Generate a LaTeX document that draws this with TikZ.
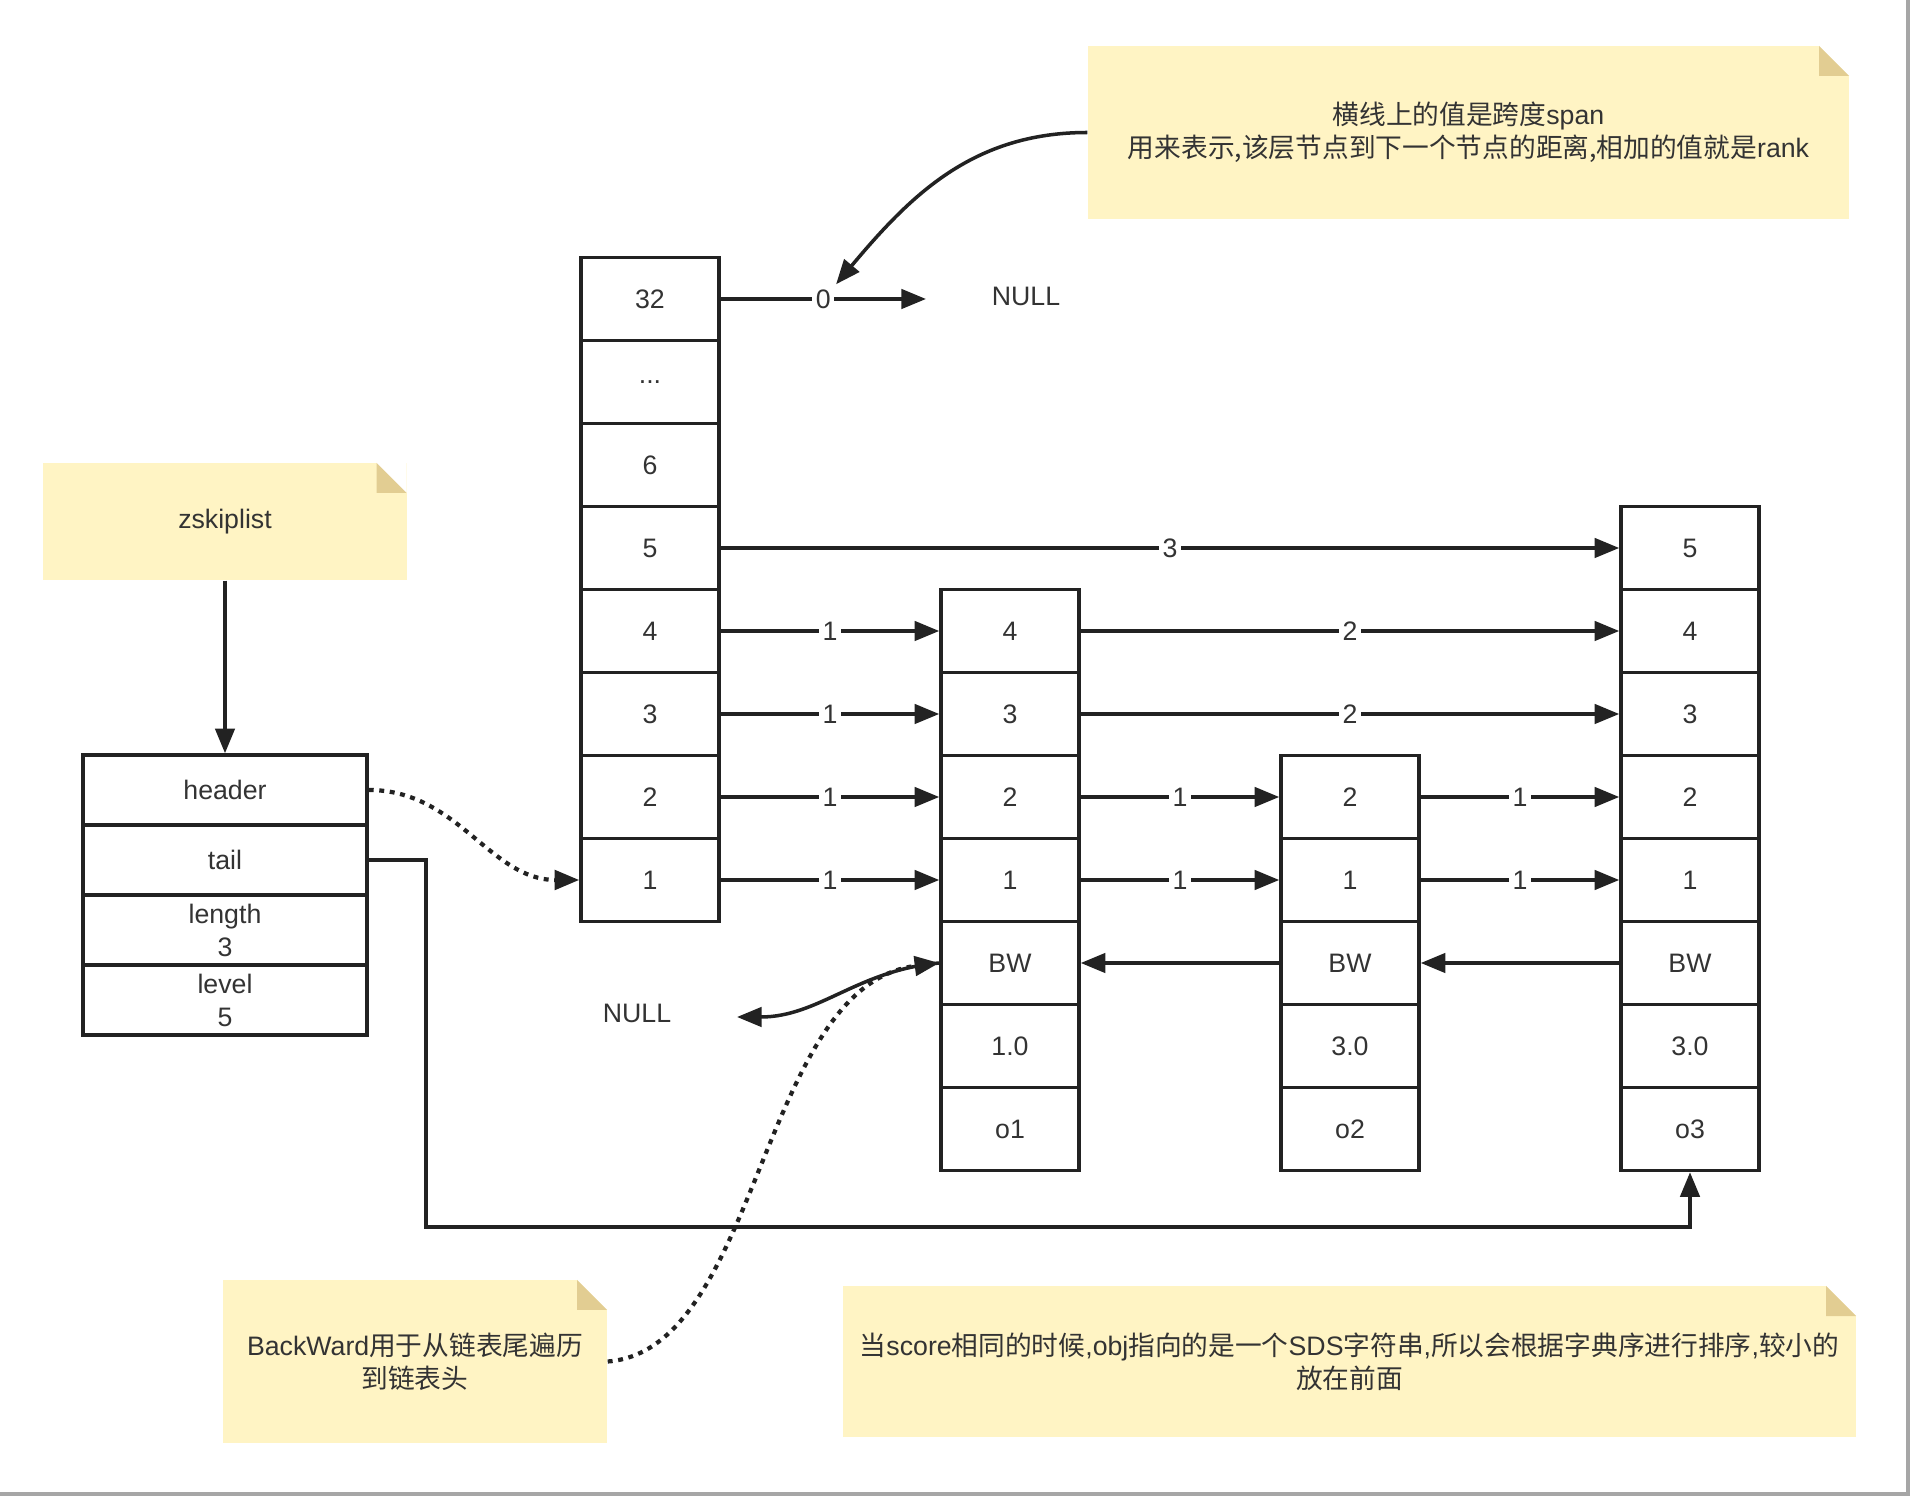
\documentclass[tikz,border=0pt]{standalone}
\usepackage{fontspec}
\setmainfont{Liberation Sans}
\newfontfamily\cjk{Noto Sans CJK SC}
\usetikzlibrary{arrows.meta}

\definecolor{notebg}{HTML}{FFF4C4}
\definecolor{notefold}{HTML}{E2CD92}
\definecolor{ink}{HTML}{222222}
\definecolor{txt}{HTML}{333333}

\tikzset{
  cell/.style={draw=ink, line width=1pt, minimum width=1.38cm, minimum height=0.83cm, inner sep=0pt},
  field/.style={draw=ink, line width=1pt, minimum width=2.84cm, minimum height=0.70cm, inner sep=0pt, align=center},
  note/.style={fill=notebg, align=center, inner sep=0pt,
    path picture={
      \fill[white] ([xshift=-3mm]path picture bounding box.north east) -- (path picture bounding box.north east) -- ([yshift=-3mm]path picture bounding box.north east) -- cycle;
      \fill[notefold] ([xshift=-3mm]path picture bounding box.north east) -- ([xshift=-3mm,yshift=-3mm]path picture bounding box.north east) -- ([yshift=-3mm]path picture bounding box.north east) -- cycle;
    }},
  arr/.style={draw=ink, line width=1pt, -{Triangle[length=7pt,width=5.5pt]}},
  lbl/.style={fill=white, inner sep=1pt},
  dotlink/.style={line width=1.2pt, dash pattern=on 1.4pt off 1.6pt}
}

\begin{document}
\begin{tikzpicture}[every node/.style={font=\fontsize{7.6}{9.4}\selectfont, text=txt}]
  \useasboundingbox (0,0) rectangle (19.10,-14.96);
  \fill[white] (0,0) rectangle (19.10,-14.96);
  \fill[gray!70] (19.06,0) rectangle (19.10,-14.96);
  \fill[gray!70] (0,-14.92) rectangle (19.10,-14.96);

  % notes
  \node[note, minimum width=3.63cm, minimum height=1.17cm] (zslnote) at (2.25, -5.215) {zskiplist};
  \node[note, minimum width=7.61cm, minimum height=1.73cm] (spannote) at (14.685, -1.325)
    {{\cjk 横线上的值是跨度}span\\{\cjk 用来表示,该层节点到下一个节点的距离,相加的值就是}rank};
  \node[note, minimum width=3.84cm, minimum height=1.63cm] (bwnote) at (4.15, -13.615)
    {BackWard{\cjk 用于从链表尾遍历}\\{\cjk 到链表头}};
  \node[note, minimum width=10.13cm, minimum height=1.51cm] (scorenote) at (13.495, -13.615)
    {{\cjk 当}score{\cjk 相同的时候},obj{\cjk 指向的是一个}SDS{\cjk 字符串},{\cjk 所以会根据字典序进行排序},{\cjk 较小的}\\{\cjk 放在前面}};

  % zskiplist
  \node[field] (header) at (2.25, -7.90) {header};
  \node[field] (tail) at (2.25, -8.60) {tail};
  \node[field] (length) at (2.25, -9.30) {length\\3};
  \node[field] (level) at (2.25, -10.00) {level\\5};

  % header node
  \node[cell] (h32) at (6.50, -2.99) {32};
  \node[cell] (hdots) at (6.50, -3.82) {...};
  \node[cell] (h6) at (6.50, -4.65) {6};
  \node[cell] (h5) at (6.50, -5.48) {5};
  \node[cell] (h4) at (6.50, -6.31) {4};
  \node[cell] (h3) at (6.50, -7.14) {3};
  \node[cell] (h2) at (6.50, -7.97) {2};
  \node[cell] (h1) at (6.50, -8.80) {1};

  % o1
  \node[cell] (a4) at (10.10, -6.31) {4};
  \node[cell] (a3) at (10.10, -7.14) {3};
  \node[cell] (a2) at (10.10, -7.97) {2};
  \node[cell] (a1) at (10.10, -8.80) {1};
  \node[cell] (abw) at (10.10, -9.63) {BW};
  \node[cell] (ascore) at (10.10, -10.46) {1.0};
  \node[cell] (aobj) at (10.10, -11.29) {o1};

  % o2
  \node[cell] (b2) at (13.50, -7.97) {2};
  \node[cell] (b1) at (13.50, -8.80) {1};
  \node[cell] (bbw) at (13.50, -9.63) {BW};
  \node[cell] (bscore) at (13.50, -10.46) {3.0};
  \node[cell] (bobj) at (13.50, -11.29) {o2};

  % o3
  \node[cell] (c5) at (16.90, -5.48) {5};
  \node[cell] (c4) at (16.90, -6.31) {4};
  \node[cell] (c3) at (16.90, -7.14) {3};
  \node[cell] (c2) at (16.90, -7.97) {2};
  \node[cell] (c1) at (16.90, -8.80) {1};
  \node[cell] (cbw) at (16.90, -9.63) {BW};
  \node[cell] (cscore) at (16.90, -10.46) {3.0};
  \node[cell] (cobj) at (16.90, -11.29) {o3};

  \node (null32) at (10.26, -2.96) {NULL};
  \node (nullbw) at (6.37, -10.13) {NULL};
  \coordinate (end32) at (9.26, -2.99);
  \coordinate (endbw) at (7.37, -10.17);
  \coordinate (tailturn) at (4.26, -12.27);

  \draw[arr] (zslnote) -- (header);
  \draw[arr, dotlink] (header.east) to[out=0, in=180] (h1.west);
  \draw[arr] (tail.east) -| (tailturn) -| (cobj.south);

  \draw[arr] (h32) -- node[lbl] (zero) {0} (end32);
  \draw[arr] (spannote.west) to[out=180, in=50] (zero.north east);
  \draw[arr] (h5) -- node[lbl] {3} (c5);
  \draw[arr] (h4) -- node[lbl] {1} (a4);
  \draw[arr] (h3) -- node[lbl] {1} (a3);
  \draw[arr] (h2) -- node[lbl] {1} (a2);
  \draw[arr] (h1) -- node[lbl] {1} (a1);
  \draw[arr] (a4) -- node[lbl] {2} (c4);
  \draw[arr] (a3) -- node[lbl] {2} (c3);
  \draw[arr] (a2) -- node[lbl] {1} (b2);
  \draw[arr] (a1) -- node[lbl] {1} (b1);
  \draw[arr] (b2) -- node[lbl] {1} (c2);
  \draw[arr] (b1) -- node[lbl] {1} (c1);

  \draw[arr] (cbw) -- (bbw);
  \draw[arr] (bbw) -- (abw);
  \draw[arr] (abw.west) to[out=185, in=0] (endbw);
  \draw[arr, dotlink] (bwnote.east) .. controls (7.6,-13.5) and (7.6,-9.85) .. (abw.west);
\end{tikzpicture}
\end{document}
